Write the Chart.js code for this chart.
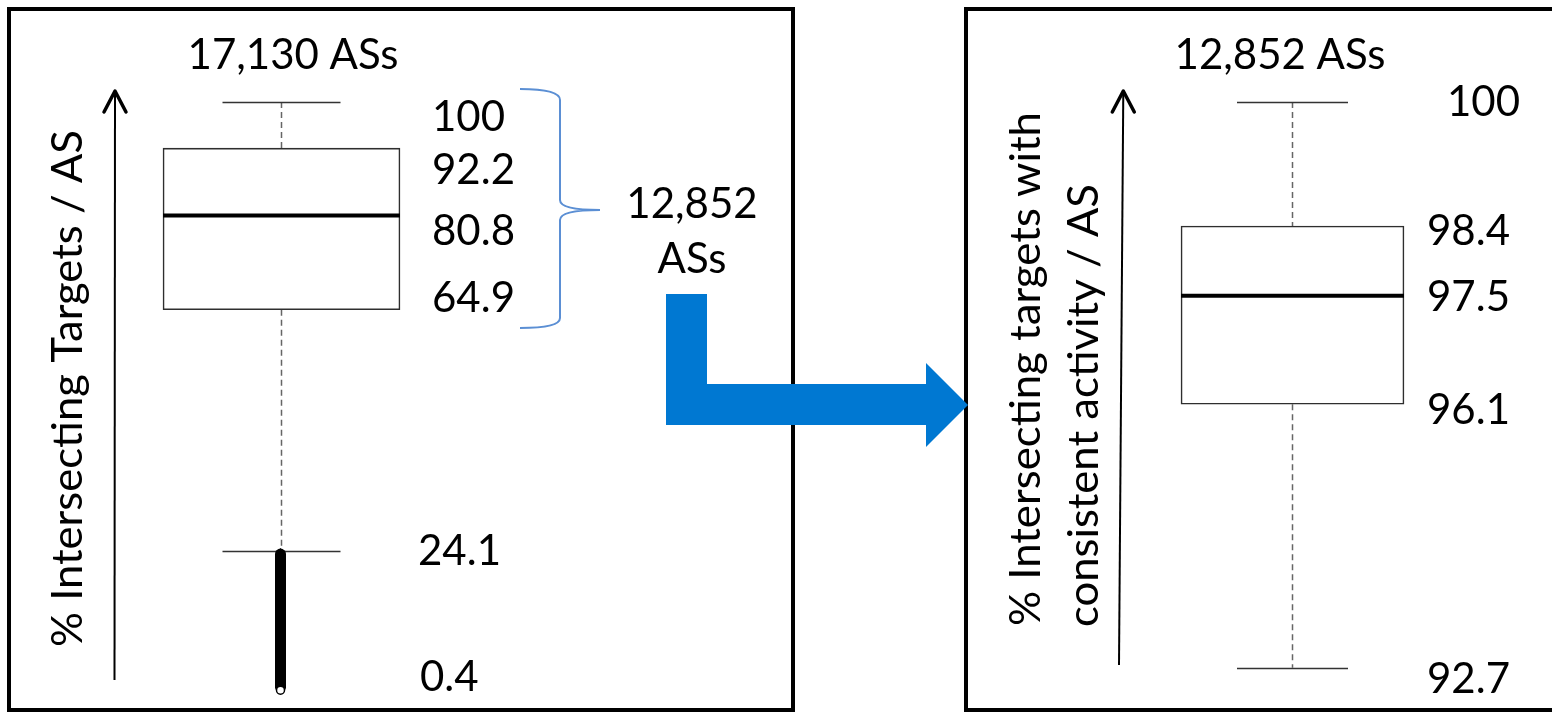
<!DOCTYPE html>
<html lang="en">
<head>
  <meta charset="UTF-8">
  <title>Intersecting targets per AS</title>
  <script src="https://cdn.jsdelivr.net/npm/chart.js"></script>
  <style>
    html, body {
      margin: 0;
      padding: 0;
      background: #fff;
      width: 1552px;
      height: 712px;
      overflow: hidden;
      font-family: Lato, sans-serif;
    }
    .panel {
      position: absolute;
      box-sizing: border-box;
      border: 4px solid #000;
    }
    #panelLeft { left: 7px; top: 7px; width: 788px; height: 705px; }
    #panelRight { left: 964px; top: 7px; width: 600px; height: 705px; }
    canvas { position: absolute; top: 0; }
    #leftChart { left: 0; }
    #rightChart { left: 960px; }
    svg { position: absolute; left: 0; top: 0; }
  </style>
</head>
<body>
  <div class="panel" id="panelLeft"></div>
  <div class="panel" id="panelRight"></div>
  <canvas id="leftChart" width="800" height="712"></canvas>
  <canvas id="rightChart" width="592" height="712"></canvas>
  <!-- blue brace and bent arrow between the two panels -->
  <svg width="1552" height="712">
    <path d="M520,89 Q560,89 560,100 L560,200 Q560,210 600,210 Q560,210 560,220 L560,318 Q560,328 520,328"
          fill="none" stroke="#5b8fd4" stroke-width="2"/>
    <polygon points="666,294 707,294 707,384 926,384 926,363 968,405 926,447 926,425 666,425" fill="#0078d2"/>
  </svg>

  <script>
    // left panel: all ASs
    const leftCount = ['17,130 ASs'];
    const leftBox = [64.9, 92.2];        // q1, q3
    const leftMedian = [80.8];
    const leftWhiskers = [24.1, 100];    // low, high
    const leftOutliers = [0.4, 24.1];    // dense outlier band
    const leftTickValues = [100, 92.2, 80.8, 64.9, 24.1, 0.4];
    const leftTickLabels = ['100', '92.2', '80.8', '64.9', '24.1', '0.4'];

    // right panel: the 12,852 ASs above the whisker
    const rightCount = ['12,852 ASs'];
    const rightBox = [96.1, 98.4];
    const rightMedian = [97.5];
    const rightWhiskers = [92.7, 100];
    const rightOutliers = [];
    const rightTickValues = [100, 98.4, 97.5, 96.1, 92.7];
    const rightTickLabels = ['100', '98.4', '97.5', '96.1', '92.7'];

    const FONT = '42px Lato';

    function boxPlugin(cfg) {
      return {
        id: 'boxExtras',
        beforeDatasetsDraw(chart) {
          const ctx = chart.ctx, x = chart.scales.x, y = chart.scales.y;
          const cx = x.getPixelForValue(0);
          ctx.save();
          // dashed whiskers
          ctx.strokeStyle = '#666';
          ctx.lineWidth = 1.5;
          ctx.setLineDash([6, 4]);
          ctx.beginPath();
          ctx.moveTo(cx, y.getPixelForValue(cfg.whiskers[1]));
          ctx.lineTo(cx, y.getPixelForValue(cfg.box[1]));
          ctx.moveTo(cx, y.getPixelForValue(cfg.box[0]));
          ctx.lineTo(cx, y.getPixelForValue(cfg.whiskers[0]));
          ctx.stroke();
          ctx.setLineDash([]);
          // caps
          ctx.strokeStyle = '#333';
          ctx.lineWidth = 1.5;
          ctx.beginPath();
          cfg.whiskers.forEach(v => {
            const py = Math.round(y.getPixelForValue(v)) + 0.5;
            ctx.moveTo(cx - cfg.capWidth / 2, py);
            ctx.lineTo(cx + cfg.capWidth / 2, py);
          });
          ctx.stroke();
          ctx.restore();
        },
        afterDatasetsDraw(chart) {
          const ctx = chart.ctx, x = chart.scales.x, y = chart.scales.y;
          const cx = x.getPixelForValue(0);
          ctx.save();
          // median
          ctx.strokeStyle = '#000';
          ctx.lineWidth = 4;
          ctx.beginPath();
          const my = y.getPixelForValue(cfg.median[0]);
          ctx.moveTo(cx - cfg.boxWidth / 2, my);
          ctx.lineTo(cx + cfg.boxWidth / 2, my);
          ctx.stroke();

          // outliers (overlapping so much they form a solid column)
          if (cfg.outliers.length) {
            const top = y.getPixelForValue(cfg.outliers[1]);
            const bot = y.getPixelForValue(cfg.outliers[0]);
            ctx.lineWidth = 11;
            ctx.lineCap = 'round';
            ctx.beginPath();
            ctx.moveTo(cx - 1, top + 3);
            ctx.lineTo(cx - 1, bot - 4);
            ctx.stroke();
            ctx.lineCap = 'butt';
            ctx.fillStyle = '#000';
            ctx.beginPath();
            ctx.moveTo(cx - 6.5, top + 4);
            ctx.lineTo(cx - 1, top - 3);
            ctx.lineTo(cx + 4.5, top + 4);
            ctx.fill();
            ctx.lineWidth = 1.5;
            ctx.fillStyle = '#fff';
            ctx.beginPath();
            ctx.arc(cx - 1, bot - 1, 4, 0, Math.PI * 2);
            ctx.fill();
            ctx.stroke();
          }

          // y axis arrow
          const a = cfg.axisArrow;
          ctx.strokeStyle = '#000';
          ctx.lineWidth = 2;
          ctx.beginPath();
          ctx.moveTo(a[0], a[1]);
          ctx.lineTo(a[2], a[3]);
          ctx.stroke();
          ctx.lineWidth = 3.5;
          ctx.lineJoin = 'round';
          ctx.lineCap = 'round';
          ctx.beginPath();
          ctx.moveTo(a[2] - 11, a[3] + 21);
          ctx.lineTo(a[2], a[3]);
          ctx.lineTo(a[2] + 11, a[3] + 21);
          ctx.stroke();

          // texts
          ctx.fillStyle = '#000';
          ctx.font = FONT;
          ctx.textBaseline = 'middle';
          ctx.textAlign = 'left';
          cfg.tickValues.forEach((v, i) => {
            ctx.fillText(cfg.tickLabels[i], cfg.tickX[i], y.getPixelForValue(v) + cfg.tickOffset[i]);
          });
          ctx.textAlign = 'center';
          ctx.fillText(cfg.count[0], cfg.countPos[0], cfg.countPos[1]);
          (cfg.extra || []).forEach(t => ctx.fillText(t[0], t[1], t[2]));

          // rotated axis titles, stretched a little to match the original length
          ctx.textAlign = 'left';
          ctx.textBaseline = 'alphabetic';
          cfg.titles.forEach(t => {
            const w = ctx.measureText(t[0]).width;
            ctx.save();
            ctx.translate(t[1], t[2]);
            ctx.rotate(-Math.PI / 2);
            ctx.scale(t[3] / w, 1);
            ctx.fillText(t[0], 0, 0);
            ctx.restore();
          });
          ctx.restore();
        }
      };
    }

    function makeBoxChart(id, cfg) {
      return new Chart(document.getElementById(id), {
        type: 'bar',
        data: {
          labels: [''],
          datasets: [{
            data: [cfg.box],
            backgroundColor: '#fff',
            borderColor: '#2e2e2e',
            borderWidth: 1.6,
            borderSkipped: false,
            barThickness: cfg.boxWidth
          }]
        },
        options: {
          responsive: false,
          animation: false,
          devicePixelRatio: 1,
          layout: { padding: cfg.padding },
          plugins: { legend: { display: false }, tooltip: { enabled: false } },
          scales: {
            x: { display: false },
            y: { display: false, min: cfg.yMin, max: 100 }
          }
        },
        plugins: [boxPlugin(cfg)]
      });
    }

    makeBoxChart('leftChart', {
      box: leftBox, median: leftMedian, whiskers: leftWhiskers, outliers: leftOutliers,
      tickValues: leftTickValues, tickLabels: leftTickLabels,
      tickX: [432, 432, 432, 432, 418, 420],
      tickOffset: [15, 22, 16, -11, 0, -14],
      count: leftCount, countPos: [293, 55],
      extra: [['12,852', 692, 204], ['ASs', 692, 259]],
      titles: [['% Intersecting Targets / AS', 82, 647, 517]],
      axisArrow: [114.5, 680, 115, 91],
      boxWidth: 237, capWidth: 118, yMin: 0,
      padding: { top: 102, bottom: 18.4, left: 100, right: 337 }
    });

    makeBoxChart('rightChart', {
      box: rightBox, median: rightMedian, whiskers: rightWhiskers, outliers: rightOutliers,
      tickValues: rightTickValues, tickLabels: rightTickLabels,
      tickX: [487, 467, 467, 467, 467],
      tickOffset: [0, 5, 2, 6, 12],
      count: rightCount, countPos: [320, 55],
      titles: [['% Intersecting targets with', 80, 626, 514], ['consistent activity / AS', 138, 627, 443]],
      axisArrow: [159, 665, 163.3, 91],
      boxWidth: 223, capWidth: 111, yMin: 92.5,
      padding: { top: 102, bottom: 28.75, left: 100, right: 27 }
    });
  </script>
</body>
</html>
